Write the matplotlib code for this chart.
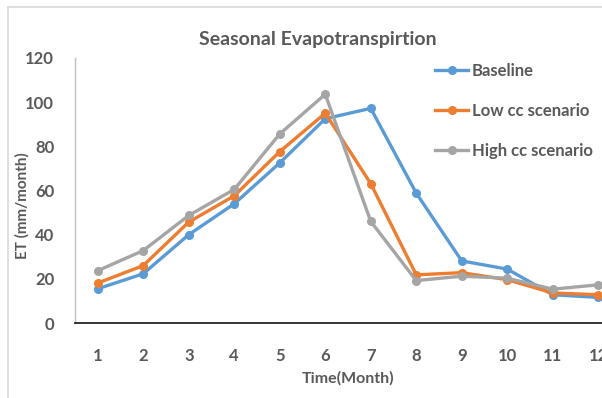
import matplotlib
matplotlib.use("Agg")
import matplotlib.pyplot as plt
from matplotlib.lines import Line2D

plt.rcParams['font.family'] = ['Lato', 'DejaVu Sans']

months = [1, 2, 3, 4, 5, 6, 7, 8, 9, 10, 11, 12]
month_labels = [str(m) for m in months]
baseline = [15.5, 22.3, 40.0, 54.0, 72.5, 92.5, 97.2, 58.8, 28.1, 24.4, 12.8, 11.6]
low_cc = [18.1, 26.0, 45.7, 57.6, 77.6, 95.0, 63.1, 21.8, 22.8, 19.6, 13.6, 12.8]
high_cc = [23.7, 32.8, 48.7, 60.5, 85.6, 103.6, 46.0, 19.2, 21.2, 20.3, 15.3, 17.3]
series_names = ["Baseline", "Low cc scenario", "High cc scenario"]
colors = ["#5B9BD5", "#ED7D31", "#A5A5A5"]
yticks = [0, 20, 40, 60, 80, 100, 120]

W, H = 602, 398
fig = plt.figure(figsize=(W / 100, H / 100), dpi=100)

# plot area (extends past the right edge of the canvas)
left, right, bottom, top = 75, 621, 323, 58
ax = fig.add_axes([left / W, 1 - bottom / H, (right - left) / W, (bottom - top) / H])
ax.set_facecolor("none")

for vals, name, c in zip([baseline, low_cc, high_cc], series_names, colors):
    ax.plot(months, vals, color=c, lw=2.4, marker="o", ms=5.5, label=name,
            solid_joinstyle="round")

ax.set_xlim(0.5, 12.5)
ax.set_ylim(0, 120)
ax.set_yticks(yticks)
ax.set_xticks(months)
ax.set_xticklabels(month_labels)
ax.tick_params(axis="both", length=0, labelsize=12, colors="#595959")
ax.tick_params(axis="y", pad=15)
ax.tick_params(axis="x", pad=18)
for lab in ax.get_xticklabels() + ax.get_yticklabels():
    lab.set_fontweight("bold")

for s in ["top", "right"]:
    ax.spines[s].set_visible(False)
ax.spines["left"].set_color("#BFBFBF")
ax.spines["left"].set_linewidth(1.0)
ax.spines["bottom"].set_color("#262626")
ax.spines["bottom"].set_linewidth(1.3)

# chart frame
fig.add_artist(Line2D([8 / W, 1.0], [1 - 7 / H, 1 - 7 / H], color="#D9D9D9", lw=1.2,
                      transform=fig.transFigure))
fig.add_artist(Line2D([8 / W, 8 / W], [0, 1 - 7 / H], color="#D9D9D9", lw=1.2,
                      transform=fig.transFigure))

fig.text(318 / W, 1 - 40 / H, "Seasonal Evapotranspirtion", ha="center", va="center",
         fontsize=14, fontweight="bold", color="#595959")
fig.text(22 / W, 1 - 206 / H, "ET (mm/month)", ha="center", va="center", rotation=90,
         fontsize=11, fontweight="bold", color="#595959")
fig.text(348 / W, 1 - 378 / H, "Time(Month)", ha="center", va="center",
         fontsize=11.5, fontweight="bold", color="#595959")

leg = fig.legend(loc="upper left", bbox_to_anchor=(435 / W, 1 - 63 / H), frameon=False,
                 fontsize=12, handlelength=2.0, handletextpad=0.2, labelspacing=1.45,
                 borderaxespad=0, borderpad=0)
for t in leg.get_texts():
    t.set_color("#595959")
    t.set_fontweight("bold")

fig.savefig("out.png", dpi=100)
